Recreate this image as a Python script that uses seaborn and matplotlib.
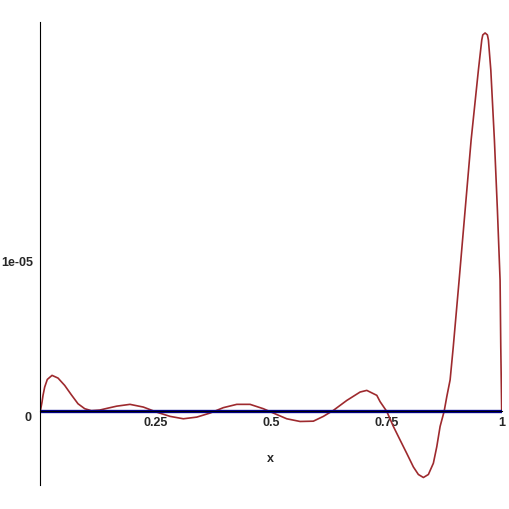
import matplotlib
matplotlib.use("Agg")
import matplotlib.pyplot as plt
import matplotlib.transforms as mtransforms
import seaborn as sns
import pandas as pd

# error curve (y in units of 1e-05)
x_vals = [0.0, 0.0037, 0.0059, 0.0095, 0.0152, 0.0254, 0.0384, 0.0529, 0.0672,
          0.0817, 0.0963, 0.1106, 0.1288, 0.1468, 0.1656, 0.1944, 0.2233, 0.2523,
          0.2812, 0.31, 0.339, 0.3679, 0.3967, 0.4258, 0.4546, 0.4834, 0.5051,
          0.5341, 0.563, 0.5918, 0.6135, 0.6352, 0.6642, 0.6931, 0.7076, 0.7293,
          0.7364, 0.7509, 0.7652, 0.7797, 0.7943, 0.8086, 0.8194, 0.8303, 0.8411,
          0.8519, 0.8593, 0.8665, 0.8752, 0.8811, 0.8882, 0.895, 0.9077, 0.9207,
          0.9337, 0.9495, 0.9568, 0.959, 0.964, 0.969, 0.9712, 0.9764, 0.9842,
          0.9907, 0.9965, 0.998, 1.0]
y_vals = [0.0, 0.062, 0.107, 0.162, 0.213, 0.24, 0.222, 0.173, 0.111,
          0.051, 0.018, 0.005, 0.009, 0.022, 0.035, 0.047, 0.029, -0.005,
          -0.033, -0.049, -0.038, -0.011, 0.025, 0.047, 0.047, 0.018, -0.011,
          -0.049, -0.067, -0.065, -0.033, 0.007, 0.073, 0.129, 0.14, 0.107,
          0.065, 0.0, -0.1, -0.19, -0.28, -0.37, -0.42, -0.44, -0.42,
          -0.345, -0.235, -0.1, 0.0, 0.1, 0.21, 0.429, 0.873, 1.34,
          1.806, 2.273, 2.473, 2.507, 2.52, 2.507, 2.473, 2.273, 1.806,
          1.34, 0.873, 0.429, 0.0]
zero_x = [0.0, 1.0]
zero_y = [0.0, 0.0]
x_ticks = [0.25, 0.5, 0.75, 1]
x_tick_labels = ["0.25", "0.5", "0.75", "1"]
y_ticks = [0, 1e-05]
y_tick_labels = ["0", "1e-05"]

sns.set_style("white")
plt.rcParams['font.family'] = ['Liberation Sans', 'DejaVu Sans']
plt.rcParams['font.weight'] = 'bold'

df = pd.DataFrame({"x": x_vals, "y": [v * 1e-05 for v in y_vals]})
df0 = pd.DataFrame({"x": zero_x, "y": zero_y})

fig = plt.figure(figsize=(5.09, 5.09), dpi=100)
ax = fig.add_axes([40.3 / 509, 24 / 509, 461.4 / 509, 463 / 509])

sns.lineplot(data=df, x="x", y="y", color="#9e2a2e", linewidth=1.2, ax=ax, sort=False)
sns.lineplot(data=df0, x="x", y="y", color="#00008f", linewidth=2.4, ax=ax)

ax.set_xlim(0, 1)
ax.set_ylim(-0.49e-05, 2.593e-05)

for s in ["top", "right"]:
    ax.spines[s].set_visible(False)
ax.spines["left"].set_position(("data", 0))
ax.spines["bottom"].set_position(("data", 0))
ax.spines["left"].set_linewidth(0.8)
ax.spines["bottom"].set_linewidth(0.8)
ax.spines["left"].set_color("black")
ax.spines["bottom"].set_color("black")

ax.set_xticks(x_ticks)
ax.set_xticklabels(x_tick_labels, fontsize=9, fontweight="bold")
ax.set_yticks(y_ticks)
ax.set_yticklabels(y_tick_labels, fontsize=9, fontweight="bold")
ax.tick_params(axis="x", length=3, width=0.8, pad=1, direction="out")
ax.tick_params(axis="y", length=5, width=0.8, pad=0, direction="out")
ax.yaxis.get_major_ticks()[0].tick1line.set_visible(False)

# the "0" label sits a little lower than the axis line
lbl0 = ax.get_yticklabels()[0]
lbl0.set_transform(lbl0.get_transform() + mtransforms.ScaledTranslation(-2 / 100, -5 / 100, fig.dpi_scale_trans))

ax.set_xlabel("")
ax.set_ylabel("")
fig.text(270 / 509, 1 - 459 / 509, "x", ha="center", va="center",
         fontsize=9, fontweight="bold")

fig.savefig("out.png", dpi=100)
